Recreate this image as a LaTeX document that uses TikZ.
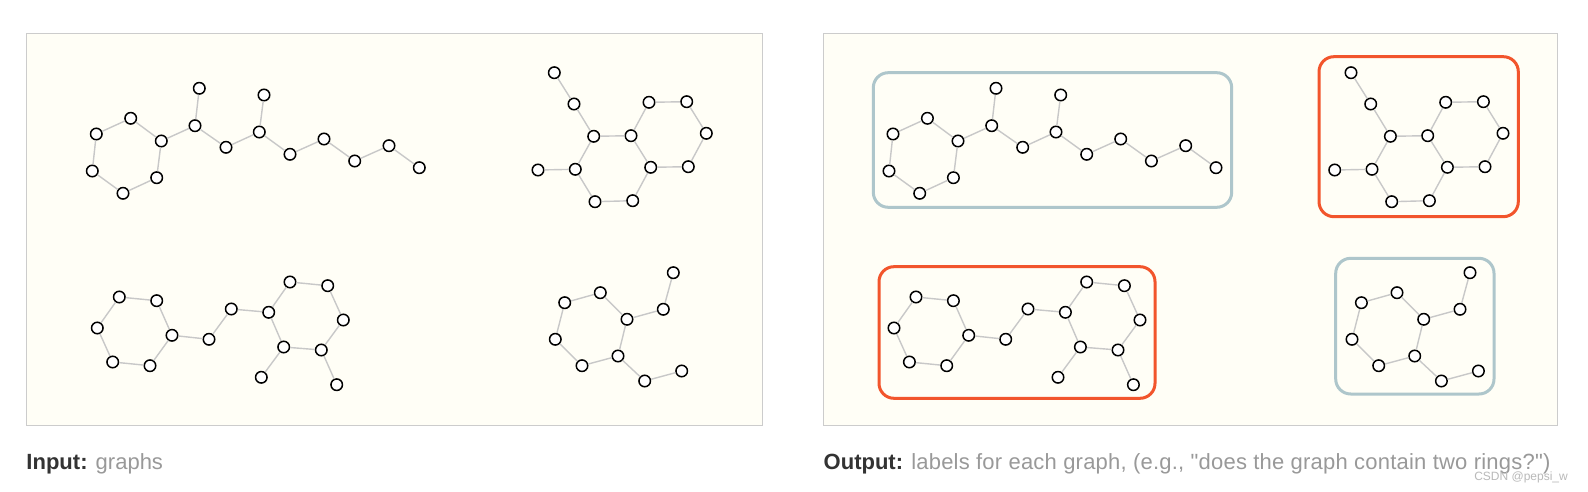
\documentclass[tikz,border=0pt]{standalone}
\usepackage{fontspec}
\setmainfont{Liberation Sans}[Ligatures=TeXOff]
\definecolor{panelbg}{HTML}{FFFEF6}
\definecolor{panelline}{HTML}{CCCCCC}
\definecolor{edgegray}{HTML}{C8C8C8}
\definecolor{boxblue}{HTML}{AEC6CB}
\definecolor{boxorange}{HTML}{F2552C}
\definecolor{darktext}{HTML}{333333}
\definecolor{lighttext}{HTML}{999999}
\tikzset{
  atom/.style={circle, draw=black, fill=white, line width=1.5pt, inner sep=0pt, minimum size=11.5pt},
  bond/.style={draw=edgegray, line width=1.4pt},
  panel/.style={draw=panelline, fill=panelbg, line width=1pt},
  classbox/.style={rounded corners=15pt, line width=3pt},
  caption/.style={anchor=base west, inner sep=0pt, font=\fontsize{22}{26}\selectfont}
}
\newcommand{\drawgraphs}[1]{%
  % graph 1
  \node[atom] (#1a1) at (96.3,134) {};
  \node[atom] (#1a2) at (130.7,118.3) {};
  \node[atom] (#1a3) at (161.3,141) {};
  \node[atom] (#1a4) at (156.7,177.7) {};
  \node[atom] (#1a5) at (123,193.3) {};
  \node[atom] (#1a6) at (92.3,171) {};
  \node[atom] (#1a7) at (195,125.7) {};
  \node[atom] (#1a8) at (199.3,88.3) {};
  \node[atom] (#1a9) at (226,147.3) {};
  \node[atom] (#1a10) at (259.3,132) {};
  \node[atom] (#1a11) at (264,95) {};
  \node[atom] (#1a12) at (290,154.3) {};
  \node[atom] (#1a13) at (324,139) {};
  \node[atom] (#1a14) at (354.7,161) {};
  \node[atom] (#1a15) at (389,145.7) {};
  \node[atom] (#1a16) at (419.3,167.7) {};
  \foreach \u/\v in {a1/a2,a2/a3,a3/a4,a4/a5,a5/a6,a6/a1,a3/a7,a7/a8,a7/a9,a9/a10,a10/a11,a10/a12,a12/a13,a13/a14,a14/a15,a15/a16}
    \draw[bond] (#1\u) -- (#1\v);
  % graph 2
  \node[atom] (#1b1) at (554.3,72.7) {};
  \node[atom] (#1b2) at (574,104) {};
  \node[atom] (#1b3) at (593.7,136.3) {};
  \node[atom] (#1b4) at (631,135.7) {};
  \node[atom] (#1b5) at (538,170) {};
  \node[atom] (#1b6) at (575.3,169.3) {};
  \node[atom] (#1b7) at (595,201.7) {};
  \node[atom] (#1b8) at (632.7,200.7) {};
  \node[atom] (#1b9) at (650.7,167.3) {};
  \node[atom] (#1b10) at (649,102.3) {};
  \node[atom] (#1b11) at (686.7,101.7) {};
  \node[atom] (#1b12) at (706.3,133.3) {};
  \node[atom] (#1b13) at (688.3,166.7) {};
  \foreach \u/\v in {b1/b2,b2/b3,b3/b4,b3/b6,b5/b6,b6/b7,b7/b8,b8/b9,b9/b4,b4/b10,b10/b11,b11/b12,b12/b13,b13/b9}
    \draw[bond] (#1\u) -- (#1\v);
  % graph 3
  \node[atom] (#1c1) at (119.3,297) {};
  \node[atom] (#1c2) at (156.7,300.7) {};
  \node[atom] (#1c3) at (172,335.3) {};
  \node[atom] (#1c4) at (150,365.7) {};
  \node[atom] (#1c5) at (112.7,362) {};
  \node[atom] (#1c6) at (97.3,328) {};
  \node[atom] (#1c7) at (209,339.3) {};
  \node[atom] (#1c8) at (231.3,309) {};
  \node[atom] (#1c9) at (268.7,312.3) {};
  \node[atom] (#1c10) at (290,282) {};
  \node[atom] (#1c11) at (327.7,285.7) {};
  \node[atom] (#1c12) at (343.3,320) {};
  \node[atom] (#1c13) at (321.3,350) {};
  \node[atom] (#1c14) at (283.7,347) {};
  \node[atom] (#1c15) at (261.3,377.3) {};
  \node[atom] (#1c16) at (336.7,384.7) {};
  \foreach \u/\v in {c1/c2,c2/c3,c3/c4,c4/c5,c5/c6,c6/c1,c3/c7,c7/c8,c8/c9,c9/c10,c10/c11,c11/c12,c12/c13,c13/c14,c14/c9,c14/c15,c13/c16}
    \draw[bond] (#1\u) -- (#1\v);
  % graph 4
  \node[atom] (#1d1) at (673.3,272.7) {};
  \node[atom] (#1d2) at (600.3,292.7) {};
  \node[atom] (#1d3) at (564.7,302.7) {};
  \node[atom] (#1d4) at (663.3,309.3) {};
  \node[atom] (#1d5) at (627,319.3) {};
  \node[atom] (#1d6) at (555.3,339.3) {};
  \node[atom] (#1d7) at (618,356) {};
  \node[atom] (#1d8) at (582,365.7) {};
  \node[atom] (#1d9) at (644.7,381) {};
  \node[atom] (#1d10) at (681.7,371) {};
  \foreach \u/\v in {d3/d2,d2/d5,d5/d7,d7/d8,d8/d6,d6/d3,d5/d4,d4/d1,d7/d9,d9/d10}
    \draw[bond] (#1\u) -- (#1\v);
}
\begin{document}
\begin{tikzpicture}[x=1pt,y=-1pt]
  \useasboundingbox (0,0) rectangle (1588,492);
  \fill[white] (0,0) rectangle (1588,492);
  % panels
  \draw[panel] (26.3,33.3) rectangle (762,425);
  \draw[panel] (823.5,33.3) rectangle (1557,425);
  % classification boxes
  \draw[classbox, draw=boxblue] (873.3,72.7) rectangle (1231.7,207.3);
  \draw[classbox, draw=boxorange] (1319,56.7) rectangle (1518.3,216.7);
  \draw[classbox, draw=boxorange] (879,266.7) rectangle (1155,398.3);
  \draw[classbox, draw=boxblue] (1335.7,258.3) rectangle (1494,394);
  % graphs
  \drawgraphs{L}
  \begin{scope}[xshift=796.7pt]
    \drawgraphs{R}
  \end{scope}
  % captions
  \node[caption] (incap) at (26.3,469) {\textcolor{darktext}{\bfseries Input:} \textcolor{lighttext}{graphs}};
  \node[caption] (outcap) at (823.5,469) {\textcolor{darktext}{\bfseries Output:} \textcolor{lighttext}{\addfontfeature{LetterSpace=1.0}labels for each graph, (e.g., "does the graph contain two rings?")}};
  \node[anchor=base east, inner sep=0pt, text=gray!55, font=\fontsize{12}{14}\selectfont] (wm) at (1568,480) {CSDN @pepsi\_w};
\end{tikzpicture}
\end{document}
